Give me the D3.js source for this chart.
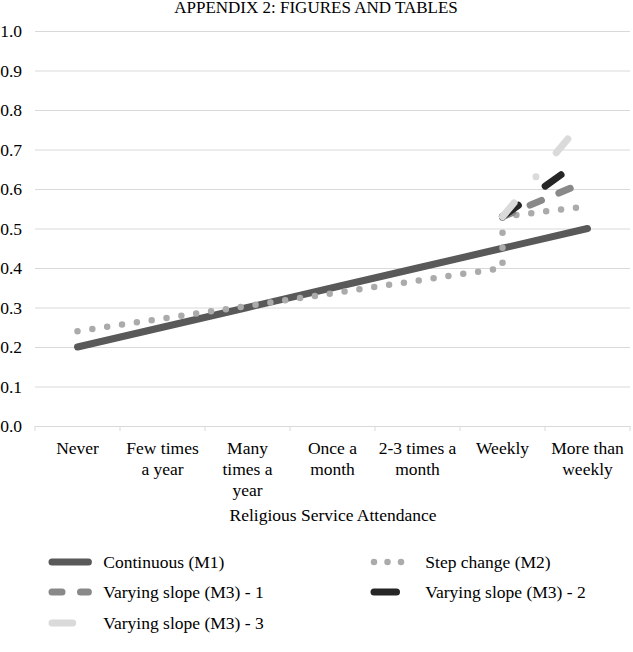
<!DOCTYPE html>
<html>
<head>
<meta charset="utf-8">
<script src="https://cdn.jsdelivr.net/npm/d3@7"></script>
<style>
  body { margin: 0; background: #fff; }
  text { font-family: "Liberation Serif", "Times New Roman", serif; fill: #000; }
</style>
</head>
<body>
<div id="chart"></div>
<script>
// categories and tick labels (split into lines as in the picture)
var categories = ["Never", "Few times a year", "Many times a year", "Once a month",
                  "2-3 times a month", "Weekly", "More than weekly"];
var catLines = [["Never"], ["Few times", "a year"], ["Many", "times a", "year"],
                ["Once a", "month"], ["2-3 times a", "month"], ["Weekly"], ["More than", "weekly"]];
var yTicks = [0, 0.1, 0.2, 0.3, 0.4, 0.5, 0.6, 0.7, 0.8, 0.9, 1.0];

// series
var continuous = [0.20, 0.25, 0.30, 0.35, 0.40, 0.45, 0.50];
var stepCats = ["Never", "Few times a year", "Many times a year", "Once a month",
                "2-3 times a month", "Weekly", "Weekly", "More than weekly"];
var stepVals = [0.24, 0.272, 0.304, 0.336, 0.368, 0.40, 0.53, 0.556];
var slopeCats = ["Weekly", "More than weekly"];
var slope1 = [0.53, 0.62];
var slope2 = [0.53, 0.684];
var slope3 = [0.53, 0.786];

var W = 633, H = 652;
var svg = d3.select("#chart").append("svg")
    .attr("width", W)
    .attr("height", H);

var x = d3.scaleBand().domain(categories).range([35, 630]).padding(0);
var y = d3.scaleLinear().domain([0, 1]).range([426, 31]);
var cx = function(c) { return x(c) + x.bandwidth() / 2; };

svg.append("text")
    .attr("x", 316).attr("y", 13)
    .attr("text-anchor", "middle")
    .style("font-size", "17px")
    .text("APPENDIX 2: FIGURES AND TABLES");

// y axis with gridlines
var gy = svg.append("g")
    .attr("transform", "translate(35,0)")
    .call(d3.axisLeft(y).tickValues(yTicks).tickSize(-595).tickPadding(13)
      .tickFormat(d3.format(".1f")));
gy.select(".domain").remove();
gy.selectAll("line").attr("stroke", "#d9d9d9");
gy.selectAll("text").style("font-size", "17.5px").attr("dy", "0.33em");

// x axis
var gx = svg.append("g")
    .attr("transform", "translate(0," + y(0) + ")")
    .call(d3.axisBottom(x).tickSize(0).tickSizeOuter(0));
gx.select(".domain").attr("stroke", "#d9d9d9");
gx.selectAll(".tick text").remove();
gx.selectAll(".tick").each(function(d, i) {
  var t = d3.select(this).append("text")
      .attr("text-anchor", "middle")
      .style("font-size", "17.5px")
      .attr("y", 28);
  catLines[i].forEach(function(s, j) {
    t.append("tspan").attr("x", 0).attr("dy", j == 0 ? 0 : 21).text(s);
  });
});
gx.selectAll("line.bound").data(d3.range(categories.length + 1)).enter()
  .append("line")
    .attr("class", "bound")
    .attr("x1", function(i) { return x.range()[0] + i * x.step(); })
    .attr("x2", function(i) { return x.range()[0] + i * x.step(); })
    .attr("y1", 0).attr("y2", 5)
    .attr("stroke", "#d9d9d9");

svg.append("text")
    .attr("x", 333).attr("y", 521)
    .attr("text-anchor", "middle")
    .style("font-size", "17.5px")
    .text("Religious Service Attendance");

var line = d3.line()
    .x(function(d) { return cx(d[0]); })
    .y(function(d) { return y(d[1]); });

var series = [
  {name: "Continuous (M1)", cats: categories, vals: continuous, color: "#595959", dash: null, offset: 0},
  {name: "Step change (M2)", cats: stepCats, vals: stepVals, color: "#ababab", dash: "0,15", offset: 0},
  {name: "Varying slope (M3) - 1", cats: slopeCats, vals: slope1, color: "#898989", dash: "12.3,18.9", offset: 1.3},
  {name: "Varying slope (M3) - 2", cats: slopeCats, vals: slope2, color: "#262626", dash: "19.5,33,19.5,80", offset: 0},
  {name: "Varying slope (M3) - 3", cats: slopeCats, vals: slope3, color: "#dadada", dash: "18,34,0,31.5,18,80", offset: 0}
];

series.forEach(function(s) {
  svg.append("path")
      .datum(s.cats.map(function(c, i) { return [c, s.vals[i]]; }))
      .attr("d", line)
      .attr("fill", "none")
      .attr("stroke", s.color)
      .attr("stroke-width", s.dash == "0,15" ? 6.5 : 7)
      .attr("stroke-linecap", "round")
      .attr("stroke-linejoin", "round")
      .attr("stroke-dasharray", s.dash)
      .attr("stroke-dashoffset", s.offset);
});

// legend
var legendPos = [[52, 562], [374, 562], [52, 592], [374, 592], [52, 623]];
var legendDash = [null, "0,13.5", "10,18.5", null, null];
var legendLen = [36.4, 36.4, 36.4, 22.5, 20.7];

var lg = svg.selectAll("g.legend").data(series).enter()
  .append("g")
    .attr("class", "legend")
    .attr("transform", function(d, i) { return "translate(" + legendPos[i][0] + "," + legendPos[i][1] + ")"; });

lg.append("line")
    .attr("x1", 0)
    .attr("x2", function(d, i) { return legendLen[i]; })
    .attr("y1", 0).attr("y2", 0)
    .attr("stroke", function(d) { return d.color; })
    .attr("stroke-width", function(d, i) { return i == 1 ? 6.5 : 7; })
    .attr("stroke-linecap", "round")
    .attr("stroke-dasharray", function(d, i) { return legendDash[i]; });

lg.append("text")
    .attr("x", 51.3)
    .attr("y", 6)
    .style("font-size", "17.5px")
    .text(function(d) { return d.name; });
</script>
</body>
</html>
